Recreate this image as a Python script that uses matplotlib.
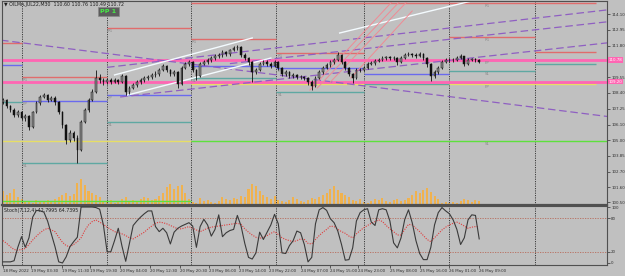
import matplotlib
matplotlib.use("Agg")
import matplotlib.pyplot as plt
import numpy as np

# ---- data (M30 bars, one candle drawn every 2 bars) ----
first_open = 107.75
closes = [107.89, 107.46, 107.17, 106.81, 107.02, 106.59, 106.73, 105.94, 107.02, 107.67,
          108.11, 108.25, 107.89, 108.03, 107.75, 107.02, 106.08, 105.00, 105.51, 105.15,
          104.28, 106.30, 107.17, 107.89, 108.47, 109.48, 109.33, 109.19, 109.33, 109.19,
          109.33, 109.19, 109.62, 108.47, 108.76, 108.97, 109.19, 109.33, 109.48, 109.55,
          109.70, 109.77, 110.06, 110.34, 110.06, 109.77, 109.91, 109.05, 110.20, 110.49,
          110.63, 110.06, 109.62, 110.49, 110.63, 110.78, 110.92, 111.07, 111.14, 111.35,
          111.21, 111.50, 111.64, 111.72, 111.14, 110.92, 110.63, 109.91, 110.06, 110.49,
          110.63, 110.49, 110.34, 110.63, 110.20, 109.77, 109.91, 109.62, 109.70, 109.55,
          109.55, 109.48, 109.19, 108.90, 109.48, 109.91, 110.20, 110.42, 110.63, 110.78,
          111.14, 110.63, 110.20, 109.77, 109.48, 110.06, 110.06, 110.20, 110.49, 110.56,
          110.71, 110.78, 110.92, 110.99, 110.92, 110.92, 110.63, 110.92, 111.14, 111.21,
          111.14, 111.07, 111.21, 110.92, 110.49, 109.62, 109.91, 110.20, 110.63, 110.78,
          110.78, 110.78, 110.92, 111.07, 110.49, 110.78, 110.85, 110.78, 110.63]
highs = [108.05, 107.98, 107.55, 107.30, 107.15, 107.10, 106.90, 106.80, 107.10, 107.80,
         108.25, 108.40, 108.35, 108.15, 108.15, 107.85, 107.10, 106.15, 105.70, 105.65,
         105.35, 106.45, 107.30, 108.00, 108.65, 110.06, 109.75, 109.45, 109.45, 109.45,
         109.50, 109.40, 109.75, 109.70, 108.90, 109.10, 109.30, 109.45, 109.60, 109.70,
         109.85, 109.95, 110.20, 110.50, 110.45, 110.15, 110.05, 110.00, 110.35, 110.65,
         110.80, 110.70, 110.15, 110.60, 110.75, 110.90, 111.05, 111.20, 111.30, 111.50,
         111.45, 111.60, 111.80, 111.86, 111.80, 111.25, 111.00, 110.70, 110.20, 110.60,
         110.80, 110.75, 110.60, 110.75, 110.70, 110.30, 110.05, 110.00, 109.85, 109.80,
         109.70, 109.65, 109.55, 109.30, 109.60, 110.05, 110.35, 110.55, 110.75, 110.95,
         111.35, 111.20, 110.70, 110.30, 109.85, 110.20, 110.20, 110.35, 110.60, 110.70,
         110.85, 110.90, 111.05, 111.10, 111.10, 111.05, 111.00, 111.05, 111.25, 111.35,
         111.30, 111.25, 111.35, 111.30, 111.00, 110.55, 110.05, 110.35, 110.75, 110.90,
         110.90, 110.90, 111.05, 111.20, 111.10, 110.90, 110.95, 110.95, 110.85]
lows = [107.60, 107.30, 107.00, 106.65, 106.70, 106.45, 106.40, 105.70, 105.85, 106.95,
        107.55, 108.00, 107.75, 107.80, 107.55, 106.90, 105.90, 104.75, 104.85, 104.95,
        103.34, 104.20, 106.20, 107.05, 107.80, 108.40, 109.10, 109.00, 109.05, 109.05,
        109.10, 109.05, 109.10, 108.25, 108.35, 108.65, 108.85, 109.05, 109.20, 109.35,
        109.40, 109.55, 109.65, 109.95, 109.90, 109.60, 109.65, 108.76, 108.95, 110.10,
        110.35, 109.90, 109.30, 109.55, 110.40, 110.50, 110.65, 110.80, 110.95, 111.00,
        111.05, 111.10, 111.40, 111.50, 111.00, 110.75, 110.45, 109.19, 109.75, 109.95,
        110.40, 110.35, 110.20, 110.25, 110.05, 109.60, 109.65, 109.50, 109.50, 109.40,
        109.40, 109.30, 109.00, 108.61, 108.80, 109.40, 109.80, 110.10, 110.30, 110.50,
        110.70, 110.50, 110.05, 109.60, 109.12, 109.40, 109.90, 109.95, 110.10, 110.40,
        110.45, 110.60, 110.70, 110.80, 110.80, 110.75, 110.45, 110.55, 110.85, 111.05,
        111.00, 110.95, 111.00, 110.80, 110.30, 109.26, 109.45, 109.80, 110.10, 110.55,
        110.65, 110.65, 110.70, 110.85, 110.35, 110.40, 110.70, 110.65, 110.55]
volume = [1400, 1000, 1200, 1600, 800, 600, 300, 400, 200, 500, 300, 400, 500, 300, 600,
          800, 1000, 1200, 900, 1100, 2200, 2600, 2000, 1400, 1200, 1000, 800, 400, 300, 500,
          200, 400, 600, 800, 300, 500, 400, 600, 800, 700, 500, 600, 900, 1200, 1800, 2100,
          1600, 1900, 2000, 1200, 600, 300, 200, 700, 400, 500, 300, 200, 400, 800, 600, 500,
          700, 600, 900, 800, 1600, 2100, 1900, 1400, 1000, 800, 600, 900, 500, 400, 300, 500,
          800, 600, 400, 300, 500, 700, 600, 800, 1000, 1200, 1600, 1900, 1500, 1200, 1000,
          800, 500, 400, 600, 300, 200, 400, 600, 500, 700, 400, 300, 500, 600, 400, 500, 700,
          1000, 1400, 1200, 1500, 1700, 1300, 900, 600, 200, 300, 200, 300, 200, 400, 600, 500,
          300, 500, 400]
stoch_k = [2, 2, 2, 4, 28, 47, 28, 45, 82, 94, 93, 91, 75, 52, 29, 2, 0, 11, 29, 38,
           46, 100, 100, 100, 100, 99, 96, 68, 20, 20, 40, 62, 30, 3, 35, 67, 75, 82, 88, 93,
           93, 65, 56, 62, 54, 34, 55, 62, 66, 69, 72, 66, 28, 65, 78, 68, 48, 60, 86, 47,
           54, 58, 60, 85, 66, 35, 10, 7, 18, 55, 42, 55, 68, 87, 70, 18, 17, 31, 40, 57,
           54, 33, 2, 10, 70, 95, 99, 94, 79, 72, 57, 33, 5, 6, 27, 75, 90, 95, 97, 73,
           67, 95, 97, 95, 75, 36, 27, 45, 78, 95, 72, 40, 17, 6, 6, 28, 68, 90, 99, 93,
           88, 77, 60, 33, 45, 77, 86, 85, 43]
stoch_d = [40, 35, 29, 24, 23, 24, 26, 33, 41, 48, 54, 59, 62, 59, 56, 46, 37, 31, 29, 33,
           38, 45, 58, 68, 74, 77, 73, 69, 64, 60, 56, 54, 52, 49, 45, 43, 47, 51, 55, 61,
           66, 71, 73, 72, 70, 67, 64, 61, 61, 63, 65, 62, 59, 56, 59, 62, 64, 65, 66, 67,
           68, 69, 70, 71, 69, 61, 55, 50, 46, 44, 46, 49, 53, 56, 51, 45, 42, 40, 38, 40,
           43, 42, 35, 34, 42, 49, 55, 60, 66, 65, 60, 56, 53, 48, 45, 52, 58, 63, 67, 71,
           74, 77, 74, 67, 61, 56, 50, 50, 60, 69, 68, 62, 56, 49, 42, 38, 45, 52, 59, 64,
           68, 71, 73, 70, 66, 62, 64, 65, 65]

# time axis (in M30 bar numbers)
time_tick_bars = [0, 15, 32, 47, 63, 79, 95, 111, 127, 143, 160, 176, 191, 208, 224, 240, 256]
time_tick_labels = ['18 May 2022', '19 May 03:30', '19 May 11:30', '19 May 19:30', '20 May 04:00',
                    '20 May 12:30', '20 May 20:30', '23 May 06:00', '23 May 14:00', '23 May 22:00',
                    '24 May 07:00', '24 May 15:00', '24 May 23:00', '25 May 08:00', '25 May 16:00',
                    '26 May 01:00', '26 May 09:00']
day_start_bars = [10, 56, 101, 147, 194, 240, 286]
price_ticks = [114.10, 112.95, 111.80, 109.55, 108.40, 107.25, 106.10, 105.00,
               103.85, 102.70, 101.60, 100.50]

# daily pivots per segment
seg_start = [-2, 10, 56, 101, 147, 194, 240, 286]
seg_end = [10, 56, 101, 147, 194, 240, 286, 319]
piv_r1 = [112.01, 109.55, 113.09, 112.29, 111.28, None, 112.44, 111.35]
piv_pp = [110.42, 107.82, 108.25, 110.34, 110.20, 109.77, 110.78, None]
piv_s1 = [107.75, 103.34, 106.30, 109.48, 108.47, 109.03, 109.99, 110.49]

# weekly pivots
week_start = [-2, 101]
week_end = [101, 325]
week_r1 = [None, 114.89]
week_pp = [104.93, 109.05]
week_s1 = [100.60, 104.93]
pink_levels = [110.78, 109.20]
pink_texts = ['110.78', '109.20']

# drawn trend lines (bar, price) -> (bar, price)
purple_t0 = [-1, 56, 122, 63]
purple_p0 = [112.21, 110.25, 110.52, 108.11]
purple_t1 = [325, 325, 325, 325]
purple_p1 = [106.70, 114.40, 113.54, 112.02]
white_t0 = [60, 67, 181]
white_p0 = [109.70, 108.25, 112.73]
white_t1 = [134, 144, 254]
white_p1 = [112.37, 110.92, 115.11]
fan_t0 = [165, 169, 176, 187]
fan_p0 = [108.61, 108.76, 109.19, 109.48]
fan_t1 = [210, 214, 218, 220]
fan_p1 = [115.11, 115.11, 115.11, 114.32]

BG = '#c0c0c0'
RED = '#e06c6c'
BLUE = '#6a6aee'
TEAL = '#5fa8a2'
PINK = '#ff66b3'
YELLOW = '#e6de66'
GREEN = '#5ee03c'
PURPLE = '#8f5fc2'
LBL = '#8a8a8a'
FS = 2.9

bars = np.arange(len(closes)) * 2
opens = [first_open] + closes[:-1]

fig = plt.figure(figsize=(6.25, 2.76), dpi=100, facecolor=BG)
rect_main = [2 / 625, 71 / 276, 605 / 625, 204 / 276]
ax_v = fig.add_axes(rect_main, zorder=0)
ax = fig.add_axes(rect_main, zorder=1)
ax2 = fig.add_axes([2 / 625, 11 / 276, 605 / 625, 59 / 276], zorder=1)

xlim = (-0.5, 324.7)

# volume
ax_v.set_facecolor(BG)
ax_v.bar(bars, volume, width=1.1, color='#f0b24e', linewidth=0)
ax_v.set_xlim(*xlim)
ax_v.set_ylim(0, 20400)
ax_v.axis('off')

ax.patch.set_visible(False)
ax.set_xlim(*xlim)
ax.set_ylim(100.31, 115.04)

# weekly lines
for s, e, r, p, s1 in zip(week_start, week_end, week_r1, week_pp, week_s1):
    if r is not None:
        ax.hlines(r, s, min(e, 319), color=RED, lw=1.0, zorder=2)
    ax.hlines(p, s, min(e, 319), color=YELLOW, lw=1.0, zorder=2)
    ax.hlines(s1, s, e, color=GREEN, lw=1.0, zorder=2)

# daily pivot segments
for k in range(len(seg_start)):
    s, e = seg_start[k], seg_end[k]
    for lev, col, name in ((piv_r1[k], RED, 'R1'), (piv_pp[k], BLUE, 'PP'), (piv_s1[k], TEAL, 'S1')):
        if lev is None:
            continue
        ax.hlines(lev, s, e, color=col, lw=1.0, zorder=2)
        if 0 < k < 5:
            ax.text(s + 0.5, lev - 0.08, name, color=LBL, fontsize=FS, va='top', ha='left', zorder=3)

# labels at the current bar
cur = bars[-1] + 3
for lev, name in ((week_r1[1], 'R1'), (piv_r1[6], 'R1'), (piv_pp[6], 'PP'), (piv_s1[6], 'S1'),
                  (week_pp[1], 'PP'), (week_s1[1], 'S1')):
    ax.text(cur, lev - 0.08, name, color=LBL, fontsize=FS, va='top', ha='left', zorder=3)

# thick pink levels
for lev in pink_levels:
    ax.axhline(lev, color=PINK, lw=2.0, zorder=2)

# trend lines
for t0, p0, t1, p1 in zip(purple_t0, purple_p0, purple_t1, purple_p1):
    ax.plot([t0, t1], [p0, p1], color=PURPLE, lw=0.9, ls=(0, (6, 3)), zorder=2)
for t0, p0, t1, p1 in zip(white_t0, white_p0, white_t1, white_p1):
    ax.plot([t0, t1], [p0, p1], color='#f4fbff', lw=1.0, zorder=2)
for t0, p0, t1, p1 in zip(fan_t0, fan_p0, fan_t1, fan_p1):
    ax.plot([t0, t1], [p0, p1], color='#f08a94', lw=0.7, zorder=2)

# day separators
for a in (ax, ax2):
    for d in day_start_bars:
        a.axvline(d, color='#3c3c3c', lw=0.7, ls=(0, (1.2, 1.2)), zorder=1)

# candles
o = np.array(opens)
c = np.array(closes)
ax.vlines(bars, lows, highs, color='#101010', lw=0.6, zorder=4)
body_lo = np.minimum(o, c)
body_h = np.maximum(np.abs(c - o), 0.03)
up = c >= o
ax.bar(bars[up], body_h[up], bottom=body_lo[up], width=0.9, color='#8a8a8a',
       edgecolor='#101010', linewidth=0.35, zorder=5)
ax.bar(bars[~up], body_h[~up], bottom=body_lo[~up], width=0.9, color='#101010',
       edgecolor='#101010', linewidth=0.35, zorder=5)

# main axis cosmetics
ax.yaxis.tick_right()
ax.set_yticks(price_ticks)
ax.set_yticklabels(['%.2f' % v for v in price_ticks])
ax.tick_params(axis='y', labelsize=FS, length=2, width=0.5, pad=1, colors='#303030')
ax.set_xticks([])
for sp in ax.spines.values():
    sp.set_color('#505050')
    sp.set_linewidth(0.8)
ax.spines['bottom'].set_linewidth(1.6)

for lev, txt in zip(pink_levels, pink_texts):
    ax.text(1.003, lev, txt, transform=ax.get_yaxis_transform(), fontsize=FS, color='white',
            va='center', ha='left', zorder=6,
            bbox=dict(boxstyle='square,pad=0.15', facecolor=PINK, edgecolor='none'))

fig.text(4 / 625, 1 - 4.5 / 276, '\u25bc OILMn,JUL22,M30  110.60 110.76 110.49 110.72',
         fontsize=3.4, color='#202020', va='center', ha='left', zorder=3)
fig.text(108.5 / 625, 1 - 11.5 / 276, 'PP 1', fontsize=4.6, color='#44f044', va='center', ha='center',
         fontweight='bold', zorder=4,
         bbox=dict(boxstyle='square,pad=0.35', facecolor='#5c5c5c', edgecolor='#8a8a8a',
                   linewidth=0.5))

# stochastic panel
ax2.set_facecolor(BG)
ax2.set_xlim(*xlim)
ax2.set_ylim(-3.6, 101.8)
ax2.axhline(80, color='#b86a5a', lw=0.6, ls=(0, (1.5, 1.5)))
ax2.axhline(20, color='#b86a5a', lw=0.6, ls=(0, (1.5, 1.5)))
ax2.plot(bars, stoch_d, color='#e03c3c', lw=0.8, ls=(0, (1, 1.2)), zorder=3)
ax2.plot(bars, stoch_k, color='#3a3a3a', lw=0.8, zorder=4)
ax2.text(0.003, 0.97, 'Stoch(7,12,4) 42.7995 64.7395', transform=ax2.transAxes,
         fontsize=3.4, color='#202020', va='top', ha='left')
ax2.yaxis.tick_right()
ax2.set_yticks([100, 80, 20, 0])
ax2.set_yticklabels(['100', '80', '20', '0'])
ax2.tick_params(axis='y', labelsize=FS, length=2, width=0.5, pad=1, colors='#303030')
ax2.set_xticks(time_tick_bars)
ax2.set_xticklabels(time_tick_labels, ha='left')
ax2.tick_params(axis='x', labelsize=FS, length=2, width=0.5, pad=1, colors='#303030')
for sp in ax2.spines.values():
    sp.set_color('#505050')
    sp.set_linewidth(0.8)

fig.savefig('out.png', dpi=100, facecolor=BG)
